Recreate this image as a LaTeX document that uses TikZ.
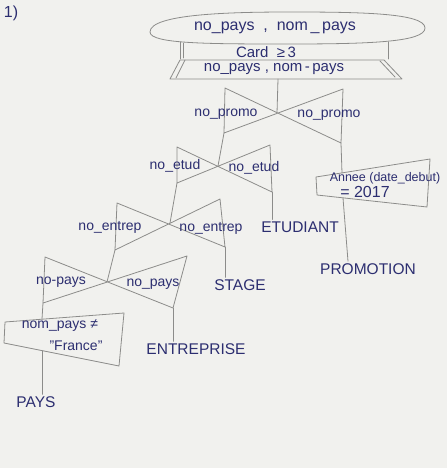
\documentclass[tikz,border=0pt]{standalone}
\usepackage{fontspec}
\setmainfont{Liberation Sans}
\definecolor{paper}{HTML}{F1F1EE}
\definecolor{pencilgray}{HTML}{8C8C8A}
\definecolor{inkblue}{HTML}{2C2E70}
\begin{document}
\begin{tikzpicture}[x=1pt,y=-1pt,line join=round,line cap=round,
  pencil/.style={draw=pencilgray,line width=0.8pt},
  lbl/.style={text=inkblue,font=\fontsize{14}{16}\selectfont,inner sep=0pt},
  big/.style={text=inkblue,font=\fontsize{16}{18}\selectfont,inner sep=0pt},
  small/.style={text=inkblue,font=\fontsize{12.5}{14}\selectfont,inner sep=0pt},
  relname/.style={text=inkblue,font=\fontsize{15.5}{17}\selectfont,inner sep=2pt}]
\fill[paper] (0,0) rectangle (447,468);
\useasboundingbox (0,0) rectangle (447,468);

\node[big] (num) at (11,13) {1)};

% grouping (ellipse-like)
\draw[pencil] (150,32) .. controls (150,14) and (230,12) .. (290,12)
  .. controls (360,12) and (425,13) .. (425,28)
  .. controls (425,42) and (370,44) .. (290,44)
  .. controls (210,44) and (150,44) .. (150,32);
\node[big] (grp) at (275,28) {no\_pays\ \ ,\ \ nom\,\_\,pays};

% card condition
\draw[pencil] (180,42) -- (180,59);
\draw[pencil] (183,43) -- (183,58);
\draw[pencil] (388,42) -- (388,59);
\node[lbl,font=\fontsize{15}{17}\selectfont] (card) at (266,52) {Card\ \ ≥\,3};

% projection (trapezoid)
\coordinate (T1) at (180,60);
\coordinate (T2) at (384,60);
\coordinate (T3) at (402,79);
\coordinate (T4) at (170,79);
\draw[pencil] (T1) -- (T2) -- (T3) -- (T4) -- cycle;
\draw[pencil] (185,60) -- (176,78);
\draw[pencil] (380,61) -- (395,77);
\node[big,font=\fontsize{15}{17}\selectfont] (proj) at (274,69) {no\_pays\ ,\ nom\,-\,pays};
\coordinate (projbot) at (278,79);

% join 1
\coordinate (J1) at (277,113);
\coordinate (J1-tl) at (225,88);
\coordinate (J1-tr) at (343,89);
\coordinate (J1-bl) at (224,133);
\coordinate (J1-br) at (341,143);
\draw[pencil] (J1-tl) -- (J1-br) -- (J1-tr) -- (J1-bl) -- cycle;
\draw[pencil] (projbot) -- (J1);
\node[lbl] (j1l) at (226,114) {no\_promo};
\node[lbl] (j1r) at (329,115) {no\_promo};

% join 2
\coordinate (J2) at (218,166);
\coordinate (J2-tl) at (177,147);
\coordinate (J2-tr) at (270,145);
\coordinate (J2-bl) at (177,183);
\coordinate (J2-br) at (272,192);
\draw[pencil] (J2-tl) -- (J2-br) -- (J2-tr) -- (J2-bl) -- cycle;
\draw[pencil] (J1-bl) -- (J2);
\node[lbl] (j2l) at (175,166) {no\_etud};
\node[lbl] (j2r) at (254,168) {no\_etud};

% join 3
\coordinate (J3) at (170,223);
\coordinate (J3-tl) at (117,203);
\coordinate (J3-tr) at (220,199);
\coordinate (J3-bl) at (115,250);
\coordinate (J3-br) at (225,247);
\draw[pencil] (J3-tl) -- (J3-br) -- (J3-tr) -- (J3-bl) -- cycle;
\draw[pencil] (J2-bl) -- (J3);
\node[lbl] (j3l) at (110,227) {no\_entrep};
\node[lbl] (j3r) at (211,228) {no\_entrep};

% join 4
\coordinate (J4) at (107,282);
\coordinate (J4-tl) at (45,257);
\coordinate (J4-tr) at (187,256);
\coordinate (J4-bl) at (43,303);
\coordinate (J4-br) at (173,308);
\draw[pencil] (J4-tl) -- (J4-br) -- (J4-tr) -- (J4-bl) -- cycle;
\draw[pencil] (J3-bl) -- (J4);
\node[lbl] (j4l) at (61,282) {no-pays};
\node[lbl] (j4r) at (153,284) {no\_pays};

% selection on PAYS
\coordinate (S1) at (5,322);
\coordinate (S2) at (124,313);
\coordinate (S3) at (119,366);
\coordinate (S4) at (4,343);
\draw[pencil] (S1) -- (S2) -- (S3) -- (S4) -- cycle;
\coordinate (seltop) at (42,319);
\coordinate (selbot) at (42,351);
\node[lbl] (sel1) at (60,326) {nom\_pays\ ≠};
\node[lbl] (sel2) at (76,346) {\char34France\char34};
\draw[pencil] (J4-bl) -- (seltop);

% selection on PROMOTION
\coordinate (A1) at (316,177);
\coordinate (A2) at (430,159);
\coordinate (A3) at (427,207);
\coordinate (A4) at (317,195);
\draw[pencil] (A1) -- (A2) -- (A3) -- (A4) -- cycle;
\coordinate (anntop) at (342,173);
\coordinate (annbot) at (343,198);
\node[small] (ann1) at (385,178) {Annee (date\_debut)};
\node[big] (ann2) at (365,192) {=\ 2017};
\draw[pencil] (J1-br) -- (anntop);

% relations
\node[relname] (etud) at (300,227) {ETUDIANT};
\node[relname] (stage) at (240,285) {STAGE};
\node[relname] (entr) at (196,349) {ENTREPRISE};
\node[relname] (pays) at (36,402) {PAYS};
\node[relname] (promo) at (368,269) {PROMOTION};

\draw[pencil] (J2-br) -- (J2-br |- etud.north);
\draw[pencil] (J3-br) -- (J3-br |- stage.north);
\draw[pencil] (J4-br) -- (J4-br |- entr.north);
\draw[pencil] (selbot) -- (selbot |- pays.north);
\draw[pencil] (annbot) -- (348,0 |- promo.north);
\end{tikzpicture}
\end{document}
